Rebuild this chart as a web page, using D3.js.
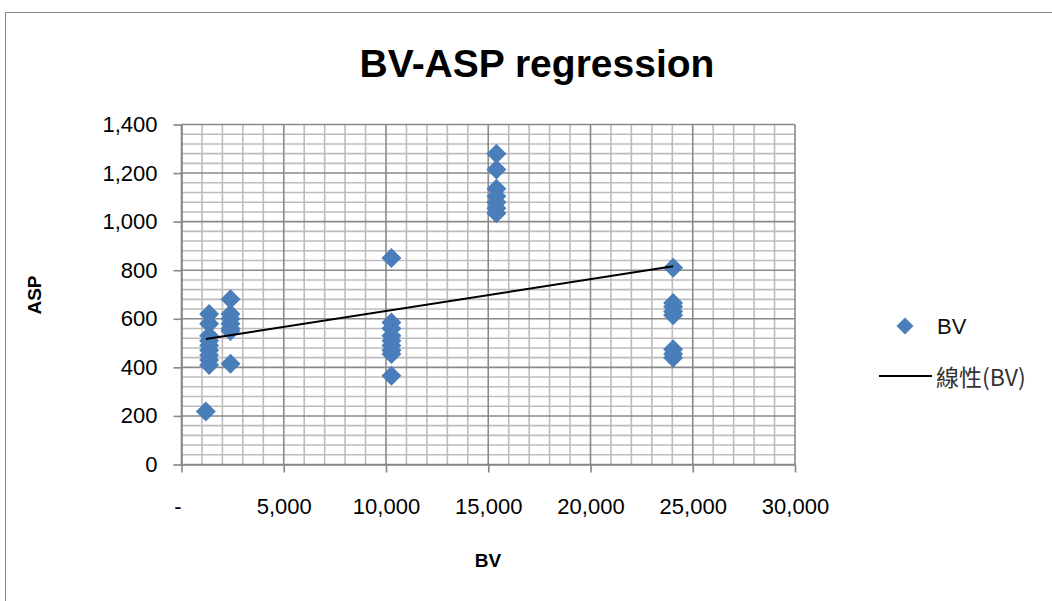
<!DOCTYPE html>
<html>
<head>
<meta charset="utf-8">
<script src="https://cdn.jsdelivr.net/npm/d3@7"></script>
<style>
  html, body { margin: 0; padding: 0; background: #fff; }
  svg { display: block; }
  text { font-family: "Liberation Sans", Arial, sans-serif; }
</style>
</head>
<body>
<svg id="chart" width="1052" height="601"></svg>
<script>
// BV (x) and ASP (y) observations
const bv  = [1350, 1350, 1350, 1350, 1350, 1350, 1350, 1350, 1350, 1190,
             2395, 2395, 2395, 2395, 2395, 2395, 2395,
             10265, 10265, 10265, 10265, 10265, 10265, 10265, 10265, 10265,
             15400, 15400, 15400, 15400, 15400, 15400, 15400,
             24040, 24040, 24040, 24040, 24040, 24040, 24040, 24040];
const asp = [620, 580, 530, 510, 490, 470, 450, 430, 410, 218,
             680, 620, 600, 580, 560, 550, 415,
             850, 585, 560, 530, 510, 490, 470, 455, 365,
             1280, 1215, 1135, 1105, 1080, 1055, 1035,
             810, 665, 650, 630, 615, 475, 455, 440];

// Linear trend line endpoints (BV, ASP)
const trendBV  = [1190, 24040];
const trendASP = [517, 816];

// Axis ticks
const xTicks = [0, 5000, 10000, 15000, 20000, 25000, 30000];
const yTicks = [0, 200, 400, 600, 800, 1000, 1200, 1400];
const xMinorStep = 1000;
const yMinorStep = 40;

const svg = d3.select("#chart");
const W = 1052, H = 601;

// Chart frame
svg.append("rect")
  .attr("x", 5.5).attr("y", 12.5)
  .attr("width", W + 10).attr("height", H + 10)
  .attr("fill", "#fff").attr("stroke", "#868686").attr("stroke-width", 1);

const x = d3.scaleLinear().domain([0, 30000]).range([181.5, 795]);
const y = d3.scaleLinear().domain([0, 1400]).range([464.5, 124.5]);

const plot = svg.append("g");

// Minor gridlines
const xMinor = d3.range(0, 30000 + 1, xMinorStep).filter(v => v % 5000 !== 0);
const yMinor = d3.range(0, 1400 + 1, yMinorStep).filter(v => v % 200 !== 0);
plot.selectAll("line.xminor").data(xMinor).join("line")
  .attr("x1", d => x(d)).attr("x2", d => x(d))
  .attr("y1", y(1400)).attr("y2", y(0))
  .attr("stroke", "#bcbcbc").attr("stroke-width", 1.6);
plot.selectAll("line.yminor").data(yMinor).join("line")
  .attr("x1", x(0)).attr("x2", x(30000))
  .attr("y1", d => y(d)).attr("y2", d => y(d))
  .attr("stroke", "#bcbcbc").attr("stroke-width", 1.6);

// Major gridlines
plot.selectAll("line.xmajor").data(xTicks).join("line")
  .attr("x1", d => x(d)).attr("x2", d => x(d))
  .attr("y1", y(1400)).attr("y2", y(0))
  .attr("stroke", "#8a8a8a").attr("stroke-width", 1.6);
plot.selectAll("line.ymajor").data(yTicks).join("line")
  .attr("x1", x(0)).attr("x2", x(30000))
  .attr("y1", d => y(d)).attr("y2", d => y(d))
  .attr("stroke", "#8a8a8a").attr("stroke-width", 1.6);

// Axes
const fmt = d3.format(",");
const yAxis = d3.axisLeft(y).tickValues(yTicks).tickFormat(fmt)
  .tickSize(8).tickSizeOuter(0).tickPadding(16);
const xAxis = d3.axisBottom(x).tickValues(xTicks)
  .tickFormat(d => d === 0 ? "-" : fmt(d))
  .tickSize(8).tickSizeOuter(0).tickPadding(26);

const gy = svg.append("g").attr("transform", `translate(${x(0)},0)`).call(yAxis);
const gx = svg.append("g").attr("transform", `translate(0,${y(0)})`).call(xAxis);
[gx, gy].forEach(g => {
  g.select(".domain").attr("stroke", "#868686").attr("stroke-width", 1.6);
  g.selectAll(".tick line").attr("stroke", "#868686").attr("stroke-width", 1.6);
  g.selectAll(".tick text")
    .attr("fill", "#000")
    .style("font-family", "'Liberation Sans', Arial, sans-serif")
    .style("font-size", "22px");
});
// the zero label is a dash set slightly left of its tick
gx.selectAll(".tick text").filter(d => d === 0).attr("dx", -4);

// Data points
const diamond = r => `M0,${-r}L${r},0L0,${r}L${-r},0Z`;
svg.append("g").selectAll("path")
  .data(bv.map((v, i) => [v, asp[i]]))
  .join("path")
  .attr("d", diamond(10))
  .attr("transform", d => `translate(${x(d[0])},${y(d[1])})`)
  .attr("fill", "#4a7ebb");

// Trend line
svg.append("path")
  .datum(trendBV.map((v, i) => [v, trendASP[i]]))
  .attr("d", d3.line().x(d => x(d[0])).y(d => y(d[1])))
  .attr("fill", "none").attr("stroke", "#000").attr("stroke-width", 2);

// Title
svg.append("text")
  .attr("x", 537).attr("y", 77)
  .attr("text-anchor", "middle")
  .style("font-size", "39px").style("font-weight", "bold")
  .text("BV-ASP regression");

// Axis titles
svg.append("text")
  .attr("x", 488).attr("y", 567)
  .attr("text-anchor", "middle")
  .style("font-size", "19px").style("font-weight", "bold")
  .text("BV");
svg.append("text")
  .attr("transform", "translate(41,295) rotate(-90)")
  .attr("text-anchor", "middle")
  .style("font-size", "19px").style("font-weight", "bold")
  .text("ASP");

// Legend
const legend = svg.append("g");
legend.append("path")
  .attr("d", diamond(8.5))
  .attr("transform", "translate(905,326)")
  .attr("fill", "#4a7ebb");
legend.append("text")
  .attr("x", 937).attr("y", 334)
  .style("font-size", "22px").attr("fill", "#111")
  .text("BV");
legend.append("line")
  .attr("x1", 879).attr("x2", 932).attr("y1", 376).attr("y2", 376)
  .attr("stroke", "#000").attr("stroke-width", 2);
legend.append("text")
  .attr("x", 936).attr("y", 386)
  .style("font-size", "23px").attr("fill", "#333")
  .style("font-family", "'Noto Sans CJK TC', 'Liberation Sans', sans-serif")
  .text("線性(BV)");
</script>
</body>
</html>
